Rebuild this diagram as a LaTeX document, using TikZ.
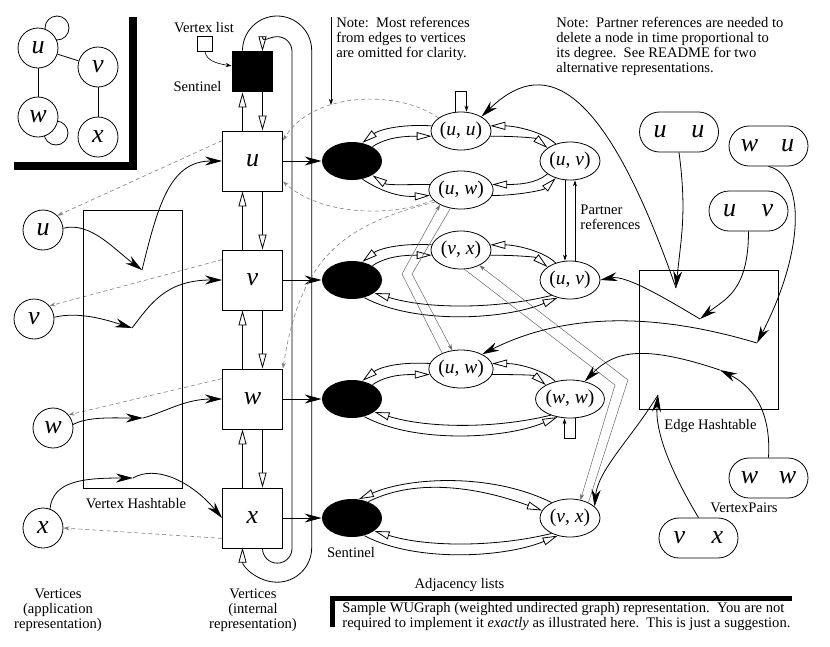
\documentclass[tikz,border=0pt]{standalone}
\usepackage{fontspec}
\setmainfont{Liberation Serif}
\usetikzlibrary{arrows.meta,shapes.geometric}
\newcommand{\edg}[2]{(\textit{#1}, \textit{#2})}
\newcommand{\twov}[2]{\makebox[19pt]{\textit{#1}}\hspace{19pt}\makebox[19pt]{\textit{#2}}}

\begin{document}
\begin{tikzpicture}[x=1pt,y=-1pt,line width=0.8pt]
\tikzstyle{lbl}=[inner sep=0pt,font=\fontsize{14.6}{15}\selectfont]
\tikzstyle{vcirc}=[circle,draw,fill=white,minimum size=40pt,inner sep=0pt,font=\fontsize{26}{26}\selectfont\itshape]
\tikzstyle{ivx}=[draw,minimum size=60pt,inner sep=0pt,font=\fontsize{26}{26}\selectfont\itshape]
\tikzstyle{sent}=[ellipse,fill=black,minimum width=60pt,minimum height=38pt]
\tikzstyle{enode}=[ellipse,draw,minimum width=60pt,minimum height=38pt,inner sep=0pt,font=\fontsize{19.5}{20}\selectfont]
\tikzstyle{vpair}=[draw,rounded corners=20pt,minimum width=79pt,minimum height=40pt,inner sep=0pt,font=\fontsize{26}{26}\selectfont]
\tikzstyle{lnk}=[-{Triangle[open,length=15pt,width=8pt]}]
\tikzstyle{hsh}=[-{Stealth[length=17pt,width=9pt]}]
\tikzstyle{ptr}=[line width=0.6pt,-{Stealth[length=6pt,width=4pt]}]
\tikzstyle{zig}=[line width=0.5pt,black!60,-{Stealth[length=6pt,width=4pt]}]
\tikzstyle{ref}=[line width=0.6pt,black!50,dash pattern=on 4pt off 3pt,-{Stealth[length=6pt,width=4pt]}]
\useasboundingbox (0,0) rectangle (830,646);
\draw (57,28) circle[radius=12];
\draw (56,133) circle[radius=12];
\foreach \name/\point/\lab in {gu/{38,48}/u, gv/{98,67}/v, gw/{38,117}/w, gx/{98,137}/x}
	\node[vcirc] (\name) at (\point) {\lab};
\draw (gu) -- (gv);
\draw (gu) -- (gw);
\draw (gv) -- (gx);
\draw[line width=8pt] (14,166) -- (133,166) -- (133,17);
\foreach \name/\point/\lab in {au/{43,230}/u, av/{34,319}/v, aw/{53,428}/w, ax/{43,528}/x}
	\node[vcirc] (\name) at (\point) {\lab};
\foreach \name/\point/\lab in {iu/{252.5,161}/u, iv/{252.5,280}/v, iw/{252.5,399}/w, ix/{252.5,518}/x}
	\node[ivx] (\name) at (\point) {\lab};
\node[lbl,anchor=base] (vll) at (204,32) {Vertex list};
\node[draw,minimum size=15pt,inner sep=0pt] (vl) at (205,44) {};
\node[fill=black,minimum size=41pt,inner sep=0pt] (snt) at (252.5,71.5) {};
\node[lbl,anchor=base] (sntl) at (197.5,91) {Sentinel};
\draw[ptr] (vl.south) .. controls +(2,10) and +(-12,-2) .. (snt.165);
\foreach \a/\b in {snt/iu, iu/iv, iv/iw, iw/ix} {
	\draw[lnk] ([xshift=-10pt]\b.north) -- ([xshift=-10pt]\a.south);
	\draw[lnk] ([xshift=10pt]\a.south) -- ([xshift=10pt]\b.north);
}
\draw[lnk] ([xshift=-10pt]snt.north) arc[start angle=180,end angle=360,radius=34.6] -- ++(0,497) arc[start angle=0,end angle=180,radius=34.6];
\draw[lnk] ([xshift=10pt]ix.south) arc[start angle=180,end angle=0,radius=14.75] -- ++(0,-497) arc[start angle=0,end angle=-180,radius=14.75];
\foreach \name/\y in {s1/161, s2/280, s3/399, s4/518}
	\node[sent] (\name) at (352,\y) {};
\foreach \v/\s in {iu/s1, iv/s2, iw/s3, ix/s4}
	\draw[hsh] (\v) -- (\s);
\foreach \name/\point/\a/\b in {e1a/{461,131}/u/u, e1b/{570,161}/u/v, e1c/{461,190}/u/w, e2a/{461,250}/v/x, e2b/{570,280}/u/v, e3a/{461,369}/u/w, e3b/{570,399}/w/w, e4b/{570,518}/v/x}
	\node[enode] (\name) at (\point) {\edg{\a}{\b}};
\foreach \s/\a/\b in {s1/e1a/e1b, s2/e2a/e2b, s3/e3a/e3b} {
	\draw[lnk] (\a.170) .. controls +(-35,-2) and +(15,-12) .. (\s.60);
	\draw[lnk] (\s.35) .. controls +(15,-10) and +(-25,0) .. (\a.190);
	\draw[lnk] (\b.130) .. controls +(-12,-12) and +(25,0) .. (\a.10);
	\draw[lnk] (\a.-10) .. controls +(25,0) and +(-12,-10) .. (\b.150);
}
\draw[lnk] (e1b.-150) .. controls +(-12,10) and +(25,0) .. (e1c.10);
\draw[lnk] (e1c.-10) .. controls +(25,0) and +(-12,12) .. (e1b.-130);
\draw[lnk] (e1c.170) .. controls +(-25,0) and +(15,10) .. (s1.-35);
\draw[lnk] (s1.-60) .. controls +(12,8) and +(-35,2) .. (e1c.190);
\foreach \s/\b in {s2/e2b, s3/e3b, s4/e4b} {
	\draw[lnk] (\b.-140) .. controls +(-57,14) and +(52,16) .. (\s.-30);
	\draw[lnk] (\s.-55) .. controls +(51,27) and +(-53,22) .. (\b.-125);
}
\draw[lnk] (e4b.140) .. controls +(-60,-30) and +(50,-22) .. (s4.70);
\draw[lnk] (s4.45) .. controls +(50,-25) and +(-60,-22) .. (e4b.165);
\draw[ptr] ([xshift=-5.5pt]e1a.north) -- ++(0,-20) -- ++(11,0) -- ([xshift=5.5pt]e1a.north);
\draw[ptr] ([xshift=5.5pt]e3b.south) -- ++(0,20) -- ++(-11,0) -- ([xshift=-5.5pt]e3b.south);
\draw[ptr] ([xshift=-5pt]e1b.south) -- ([xshift=-5pt]e2b.north);
\draw[ptr] ([xshift=5pt]e2b.north) -- ([xshift=5pt]e1b.south);
\coordinate (z1) at (402,274);
\coordinate (z2) at (412,274);
\coordinate (z3) at (615,385);
\coordinate (z4) at (628,380);
\draw[zig] (e3a.140) -- (z1) -- (e1c.-145);
\draw[zig] (e1c.-120) -- (z2) -- (e3a.115);
\draw[zig] (e2a.-80) -- (z3) -- (e4b.60);
\draw[zig] (e4b.40) -- (z4) -- (e2a.-40);
\node[lbl,anchor=north west,align=left] (note1) at (336,17) {Note:\ \ Most references\\from edges to vertices\\are omitted for clarity.};
\node[lbl,anchor=north west,align=left] (note2) at (556,17) {Note:\ \ Partner references are needed to\\delete a node in time proportional to\\its degree.\ \ See README for two\\alternative representations.};
\coordinate (np) at (331,105);
\draw[ptr] ([xshift=-5pt]note1.north west) -- (np);
\draw[ref] (e1a.150) .. controls +(-38,-28) and +(30,-50) .. ([yshift=-10pt]iu.north east);
\draw[ref] (e1c.-160) .. controls (390,218) and (320,215) .. ([yshift=10pt]iu.south east);
\draw[ref] (e1c.-155) .. controls (340,225) and (300,260) .. (iw.north east);
\foreach \v/\a/\ang in {iu/au/45, iv/av/40, iw/aw/40}
	\draw[ref] ([yshift=-10pt]\v.north west) -- (\a.\ang);
\draw[ref] ([yshift=10pt]ix.south west) -- (ax.east);
\node[lbl,anchor=north west,align=left] (prl) at (580,205) {Partner\\references};
\node[draw,minimum width=99pt,minimum height=278pt,inner sep=0pt] (vht) at (132.5,349) {};
\node[lbl,anchor=base] (vhtl) at (136,508) {Vertex Hashtable};
\node[draw,minimum width=139pt,minimum height=139pt,inner sep=0pt] (eht) at (708.5,339.5) {};
\node[lbl,anchor=base] (ehtl) at (710.5,429) {Edge Hashtable};
\foreach \name/\point/\a/\b in {puu/{679,132}/u/u, pwu/{768.5,146}/w/u, puv/{748.5,211}/u/v, pww/{768.5,478}/w/w, pvx/{698.5,538}/v/x}
	\node[vpair] (\name) at (\point) {\twov{\a}{\b}};
\node[lbl,anchor=base] (vpl) at (744,512) {VertexPairs};
\coordinate (hu) at (142,270);
\coordinate (hv) at (132,328);
\coordinate (hw) at (143,418);
\coordinate (hx) at (133,478);
\draw[hsh] (au.5) .. controls +(27,-7) and +(-27,-20) .. (hu);
\draw[hsh] (hu) .. controls (158,205) and (170,161) .. (iu.west);
\draw[hsh] (av.5) .. controls +(25,-6) and +(-25,-8) .. (hv);
\draw[hsh] (hv) .. controls (150,305) and (165,280) .. (iv.west);
\draw[hsh] (aw.10) .. controls +(15,-8) and +(-30,0) .. (hw);
\draw[hsh] (hw) .. controls (165,412) and (185,399) .. (iw.west);
\draw[hsh] (ax.70) .. controls +(3,-28) and +(-50,0) .. (hx);
\draw[hsh] (hx) .. controls (155,465) and (190,480) .. (ix.west);
\coordinate (kuu) at (676,288);
\coordinate (kuv) at (700,319);
\coordinate (kwu) at (757,343);
\coordinate (kww) at (720,370);
\coordinate (kvx) at (658,395);
\draw[hsh] (puu.south) .. controls +(8,60) and +(5,-50) .. (kuu);
\draw[hsh] (kuu) .. controls (600,70) and (540,60) .. (e1a.35);
\draw[hsh] (puv.south) .. controls +(0,60) and +(25,-20) .. (kuv);
\draw[hsh] (kuv) .. controls (660,295) and (625,275) .. (e2b.east);
\draw[hsh] (pwu.south) .. controls +(37,9) and +(48,-93) .. (kwu);
\draw[hsh] (kwu) .. controls (680,320) and (580,305) .. (e3a.35);
\draw[hsh] (pww.north) .. controls +(3,-50) and +(30,15) .. (kww);
\draw[hsh] (kww) .. controls (645,345) and (615,350) .. (e3b.50);
\draw[hsh] (pvx.north) .. controls +(-30,-50) and +(-3,35) .. (kvx);
\draw[hsh] (kvx) .. controls (630,440) and (598,470) .. (e4b.25);
\node[lbl,align=center,anchor=north] (vapl) at (58,588) {Vertices\\(application\\representation)};
\node[lbl,align=center,anchor=north] (vinl) at (253,588) {Vertices\\(internal\\representation)};
\node[lbl,anchor=base] (snt4l) at (351,557) {Sentinel};
\node[lbl,anchor=base] (adjl) at (459.5,588) {Adjacency lists};
\draw[line width=4.5pt] (792,598.7) -- (332.5,598.7) -- (332.5,627);
\node[lbl,anchor=north west,align=left] (capt) at (342,602) {Sample WUGraph (weighted undirected graph) representation.\ \ You are not\\required to implement it \textit{exactly} as illustrated here.\ \ This is just a suggestion.};
\end{tikzpicture}
\end{document}
